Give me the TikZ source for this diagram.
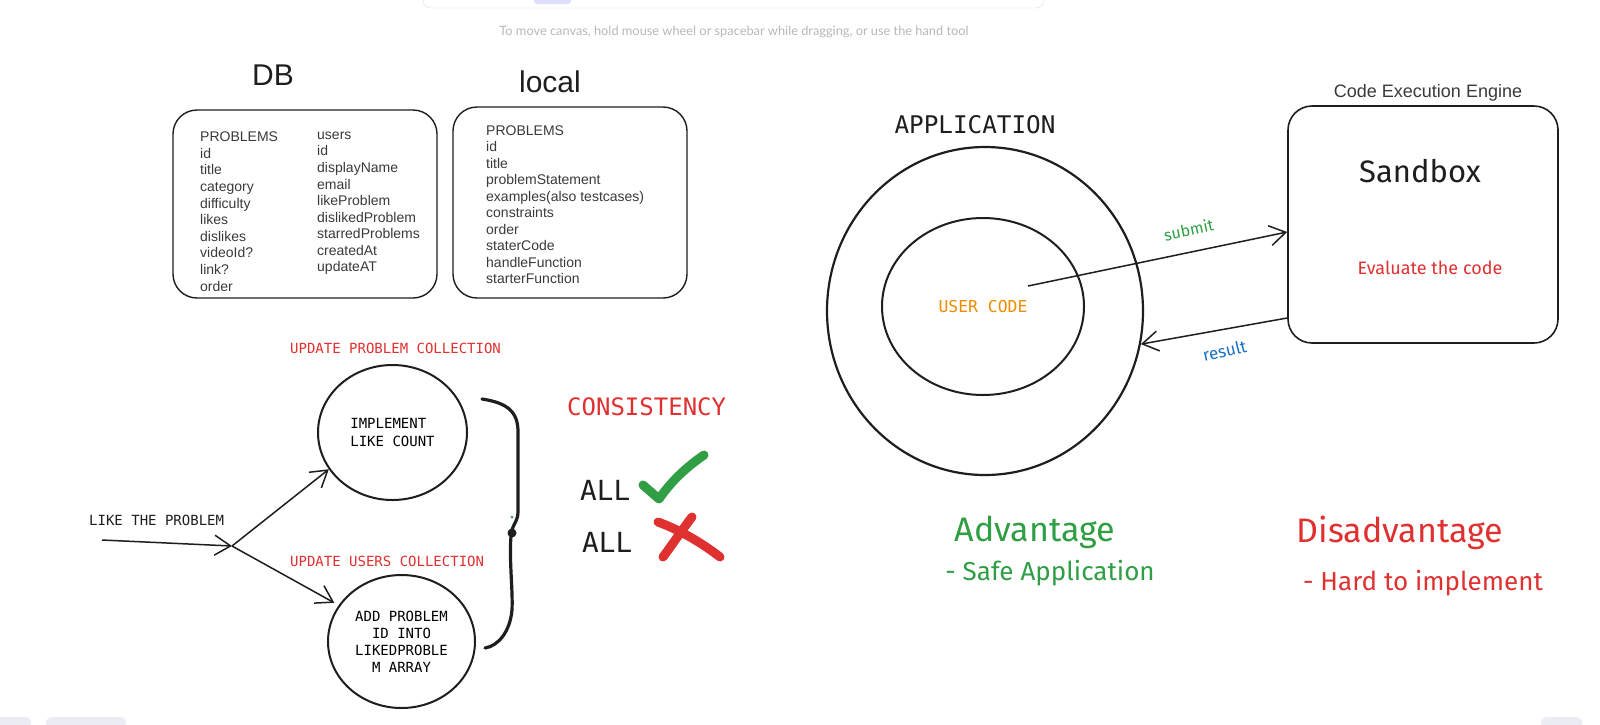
\documentclass[tikz,border=0pt]{standalone}
\usepackage{fontspec}
\setmainfont{Liberation Sans}
\newfontfamily\monofont{DejaVu Sans Mono}
\newfontfamily\handfont{Fira Sans}
\newfontfamily\uifont{Lato}
\usetikzlibrary{arrows.meta,shapes.geometric}
\definecolor{ink}{HTML}{1E1E1E}
\definecolor{fieldgray}{HTML}{3A3A3A}
\definecolor{xred}{HTML}{E03131}
\definecolor{xgreen}{HTML}{2F9E44}
\definecolor{xblue}{HTML}{1971C2}
\definecolor{xorange}{HTML}{F08C00}
\definecolor{hintgray}{HTML}{B8B8B8}
\definecolor{uifill}{HTML}{ECECF4}
\definecolor{uilav}{HTML}{E0DFFF}
\begin{document}
\begin{tikzpicture}[x=1pt,y=-1pt,
  box/.style={draw=ink, line width=1.4pt, rounded corners=24pt, inner sep=0pt},
  bubble/.style={draw=ink, ellipse, line width=2pt, inner sep=0pt},
  flow/.style={draw=ink, line width=1.5pt, -{Straight Barb[length=16pt,width=20pt]}},
  field/.style={anchor=base west, inner sep=0pt, text=fieldgray, font=\fontsize{14}{16}\selectfont},
  title/.style={anchor=base, inner sep=0pt, text=ink, font=\fontsize{30}{36}\selectfont},
  code/.style={inner sep=0pt, text=ink, font=\monofont\fontsize{#1}{#1}\selectfont},
  hand/.style={anchor=base, inner sep=0pt, text=ink, font=\handfont\fontsize{#1}{#1}\selectfont},
  brace/.style={draw=ink, line width=3.2pt, line cap=round, line join=round},
  tickstroke/.style={draw=#1, line width=9pt, line cap=round, line join=round}]
\useasboundingbox (0,0) rectangle (1600,724);
\clip (0,0) rectangle (1600,724);
\fill[white] (0,0) rectangle (1600,724);

% canvas ui
\draw[draw=gray!25, fill=white, rounded corners=8pt] (423,-20) rectangle (1044,8);
\fill[uilav, rounded corners=3pt] (534,-10) rectangle (571,4);
\node[inner sep=0pt, text=hintgray, font=\uifont\fontsize{12.8}{14}\selectfont] (hint) at (734,32) {To move canvas, hold mouse wheel or spacebar while dragging, or use the hand tool};
\fill[uifill, rounded corners=6pt] (-10,717) rectangle (31,740);
\fill[uifill, rounded corners=6pt] (46,717) rectangle (126,740);
\fill[uifill, rounded corners=6pt] (1541,717) rectangle (1582,740);

% DB
\node[title] (db-title) at (273,85) {DB};
\node[box, minimum width=264pt, minimum height=188pt] (db) at (305,204) {};
\node[field] (db-p0) at (200,141.7) {PROBLEMS};
\node[field] (db-p1) at (200,158.3) {id};
\node[field] (db-p2) at (200,174.9) {title};
\node[field] (db-p3) at (200,191.5) {category};
\node[field] (db-p4) at (200,208.1) {difficulty};
\node[field] (db-p5) at (200,224.7) {likes};
\node[field] (db-p6) at (200,241.3) {dislikes};
\node[field] (db-p7) at (200,257.9) {videoId?};
\node[field] (db-p8) at (200,274.5) {link?};
\node[field] (db-p9) at (200,291.1) {order};
\node[field] (db-u0) at (317,139.3) {users};
\node[field] (db-u1) at (317,155.9) {id};
\node[field] (db-u2) at (317,172.4) {displayName};
\node[field] (db-u3) at (317,189.0) {email};
\node[field] (db-u4) at (317,205.5) {likeProblem};
\node[field] (db-u5) at (317,222.1) {dislikedProblem};
\node[field] (db-u6) at (317,238.6) {starredProblems};
\node[field] (db-u7) at (317,255.2) {createdAt};
\node[field] (db-u8) at (317,271.7) {updateAT};

% local
\node[title] (local-title) at (550,92) {local};
\node[box, minimum width=234pt, minimum height=191pt] (local) at (570,202.5) {};
\node[field] (lc-0) at (486,135.0) {PROBLEMS};
\node[field] (lc-1) at (486,151.5) {id};
\node[field] (lc-2) at (486,168.0) {title};
\node[field] (lc-3) at (486,184.5) {problemStatement};
\node[field] (lc-4) at (486,201.0) {examples(also testcases)};
\node[field] (lc-5) at (486,217.5) {constraints};
\node[field] (lc-6) at (486,234.0) {order};
\node[field] (lc-7) at (486,250.5) {staterCode};
\node[field] (lc-8) at (486,267.0) {handleFunction};
\node[field] (lc-9) at (486,283.5) {starterFunction};

% like flow
\node[code=14, anchor=base west, text=xred] (upd-prob) at (290,353) {UPDATE PROBLEM COLLECTION};
\node[code=14, anchor=base west, text=xred] (upd-users) at (290,566) {UPDATE USERS COLLECTION};
\node[code=14, anchor=base west] (like) at (89,525) {LIKE THE PROBLEM};
\node[bubble, minimum width=149pt, minimum height=135pt, align=left,
  font=\monofont\fontsize{14}{18}\selectfont] (impl) at (392.5,432.5) {IMPLEMENT\\LIKE COUNT};
\node[bubble, minimum width=147pt, minimum height=133pt, align=center,
  font=\monofont\fontsize{14}{17}\selectfont] (addid) at (401.5,641.5) {ADD PROBLEM\\ID INTO\\LIKEDPROBLE\\M ARRAY};
\coordinate (like-start) at (102,540);
\coordinate (fork) at (232,546);
\draw[flow] (like-start) -- (fork);
\draw[flow] (fork) -- (impl.210);
\draw[flow, shorten >=5pt] (fork) -- (addid.150);
\draw[brace] (482,399) .. controls (508,403) and (518,412) .. (518,432) -- (518,512)
  .. controls (518,522) and (511,526) .. (511,536) .. controls (509,560) and (513,590) .. (512,610)
  .. controls (510,632) and (498,646) .. (485,648);
\fill[ink] (512,533) circle[radius=4.5];
\fill[xgreen] (512,517) circle[radius=1.5];

% consistency
\node[code=24, anchor=base west, text=xred] (consist) at (567,415) {CONSISTENCY};
\node[code=27.7, anchor=base west] (all-ok) at (580,500) {ALL};
\node[code=27.7, anchor=base west] (all-no) at (582,552) {ALL};
\draw[tickstroke=xgreen] (643,485) -- (659,499) .. controls (672,480) and (688,466) .. (704,455);
\draw[tickstroke=xred] (692,517) .. controls (682,530) and (672,545) .. (663,557);
\draw[tickstroke=xred] (658,522) .. controls (680,530) and (702,543) .. (720,557);

% application
\node[code=24.3, anchor=base] (app-title) at (975,133) {APPLICATION};
\node[bubble, line width=2.2pt, minimum width=316pt, minimum height=328pt] (app) at (985,311) {};
\node[bubble, minimum width=202pt, minimum height=177pt, text=xorange,
  font=\monofont\fontsize{16.4}{18}\selectfont] (usercode) at (983,306.5) {USER CODE};

% sandbox
\node[inner sep=0pt, anchor=base, text=fieldgray, font=\fontsize{18}{20}\selectfont] (engine) at (1428,97) {Code Execution Engine};
\node[box, line width=1.6pt, minimum width=270pt, minimum height=237pt] (sandbox) at (1423,224.5) {};
\node[hand=31] (sandbox-title) at (1420,182) {Sandbox};
\node[hand=18, text=xred] (evaluate) at (1430,274) {Evaluate the code};
\coordinate (submit-from) at (1028,286);
\draw[flow] (submit-from) -- ([yshift=-7.5pt]sandbox.west);
\draw[flow] ([yshift=-93.5pt]sandbox.west) -- (app.-12.7);
\node[hand=16, text=xgreen, rotate=12] (submit-label) at (1190,236) {submit};
\node[hand=17, text=xblue, rotate=13] (result-label) at (1226,357) {result};

% pros and cons
\node[hand=34, text=xgreen] (adv) at (1035,541) {Advantage};
\node[hand=26, text=xgreen] (adv-item) at (1050,580) {- Safe Application};
\node[hand=34, text=xred] (disadv) at (1400,542) {Disadvantage};
\node[hand=26, text=xred] (disadv-item) at (1423,590) {- Hard to implement};
\end{tikzpicture}
\end{document}
